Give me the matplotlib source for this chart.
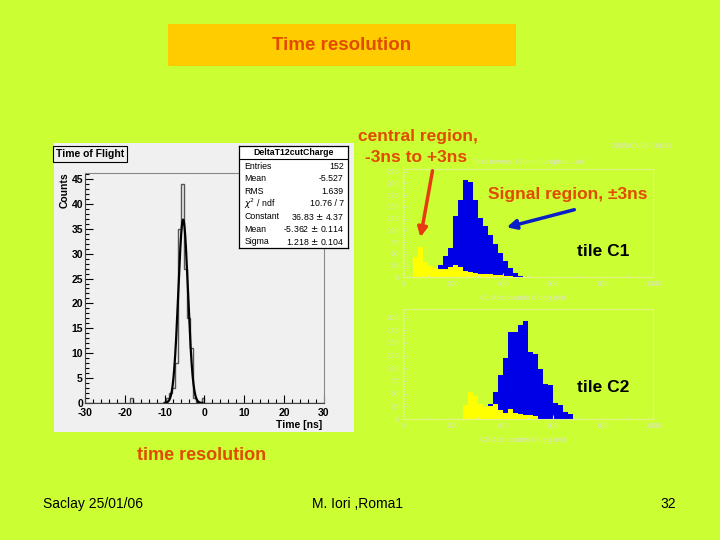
import numpy as np
import matplotlib
matplotlib.use("Agg")
import matplotlib.pyplot as plt
from matplotlib.patches import Rectangle
from matplotlib.ticker import MultipleLocator

plt.rcParams['font.family'] = ['Liberation Sans', 'DejaVu Sans']
plt.rcParams['axes.unicode_minus'] = False

# time of flight histogram (0.75 ns bins), lower bin edges and counts
tof_bin_lo = [-18.75, -9.75, -9.0, -8.25, -7.5, -6.75, -6.0, -5.25, -4.5, -3.75, -3.0, -0.75]
tof_counts = [1, 1, 2, 3, 8, 35, 44, 27, 17, 11, 1, 1]
tof_bin_w = 0.75

# gaussian fit from the stats box
fit_const = 36.83
fit_mean = -5.362
fit_sigma = 1.218

stats_rows = [
    ("Entries", "152"),
    ("Mean", "-5.527"),
    ("RMS", "1.639"),
    ("$\\chi^2$ / ndf", "10.76 / 7"),
    ("Constant", "36.83 $\\pm$ 4.37"),
    ("Mean", "-5.362 $\\pm$ 0.114"),
    ("Sigma", "1.218 $\\pm$ 0.104"),
]

# ADC spectra, 20 count bins: first bin lower edge + counts
adc_bin_w = 20
c1_blue_start = 140
c1_blue = [27, 45, 62, 130, 165, 207, 203, 165, 126, 109, 91, 70, 52, 34, 20, 9, 2, 1]
c1_yellow_start = 40
c1_yellow = [44, 64, 32, 24, 20, 17, 18, 22, 27, 21, 14, 11, 9, 8, 7, 6, 5, 4, 3, 2, 1]
c2_blue_start = 320
c2_blue = [22, 30, 54, 87, 120, 172, 172, 186, 193, 133, 128, 98, 70, 68, 31, 28, 13, 10]
c2_yellow_start = 240
c2_yellow = [28, 54, 45, 30, 24, 26, 29, 17, 12, 19, 11, 9, 8, 7, 5]

W, H = 720, 540
LIME = '#ccff33'
ORANGE_TXT = '#e24a00'
PALE = '#dbe5b8'


def box(x0, y0, x1, y1):
    return [x0 / W, 1 - y1 / H, (x1 - x0) / W, (y1 - y0) / H]


fig = plt.figure(figsize=(7.2, 5.4), dpi=100, facecolor=LIME)

# overlay in pixel coordinates for slide text
ov = fig.add_axes([0, 0, 1, 1], zorder=10)
ov.set_xlim(0, W)
ov.set_ylim(H, 0)
ov.axis('off')
ov.patch.set_alpha(0)

ov.add_patch(Rectangle((168, 24), 348, 42, fc='#ffcc00', ec='none'))
ov.text(342, 45, "Time resolution", color=ORANGE_TXT, fontsize=13.5, fontweight='bold',
        ha='center', va='center')

# ---- left panel: time of flight ----
canvas = fig.add_axes(box(54, 143, 354, 432))
canvas.set_facecolor('#f0f0f0')
canvas.set_xticks([])
canvas.set_yticks([])
for s in canvas.spines.values():
    s.set_visible(False)

ax = fig.add_axes(box(85, 173, 324, 403))
ax.set_facecolor('#f0f0f0')
edges = np.arange(-30, 30 + tof_bin_w / 2, tof_bin_w)
h, _ = np.histogram(np.array(tof_bin_lo) + tof_bin_w / 2, bins=edges, weights=tof_counts)
ax.stairs(h, edges, color='#555555', lw=1.0)
xs = np.linspace(-10, -0.5, 300)
ax.plot(xs, fit_const * np.exp(-0.5 * ((xs - fit_mean) / fit_sigma) ** 2), color='black', lw=1.6)
ax.set_xlim(-30, 30)
ax.set_ylim(0, 46.2)
ax.xaxis.set_major_locator(MultipleLocator(10))
ax.xaxis.set_minor_locator(MultipleLocator(2))
ax.yaxis.set_major_locator(MultipleLocator(5))
ax.yaxis.set_minor_locator(MultipleLocator(1))
ax.tick_params(which='both', direction='in', labelsize=7.5, width=0.8)
ax.tick_params(axis='x', pad=3.5)
ax.tick_params(axis='y', pad=1.5)
ax.tick_params(which='major', length=6)
ax.tick_params(which='minor', length=3)
for lab in ax.get_xticklabels() + ax.get_yticklabels():
    lab.set_fontweight('bold')
ax.get_yticklabels()[0].set_verticalalignment('bottom')
for s in ax.spines.values():
    s.set_linewidth(0.8)
    s.set_color('#444444')
ax.spines['top'].set_color('#888888')
ax.spines['right'].set_color('#888888')

ov.text(65, 190, "Counts", rotation=90, fontsize=7.5, fontweight='bold', ha='center', va='center')
ov.text(322, 425, "Time [ns]", fontsize=7.5, fontweight='bold', ha='right', va='center')
ov.text(90, 154, "Time of Flight", fontsize=7.5, fontweight='bold', ha='center', va='center',
        bbox=dict(boxstyle='square,pad=0.3', fc='#f0f0f0', ec='black', lw=0.8))

# stats box
st = fig.add_axes(box(239, 146, 348, 248), zorder=5)
st.set_facecolor('white')
st.set_xticks([])
st.set_yticks([])
st.set_xlim(0, 1)
st.set_ylim(len(stats_rows) + 1.1, 0)
for s in st.spines.values():
    s.set_linewidth(0.9)
st.axhline(1.05, color='black', lw=0.8)
st.text(0.5, 0.55, "DeltaT12cutCharge", fontsize=6.3, fontweight='bold', ha='center', va='center')
for i, (k, v) in enumerate(stats_rows):
    st.text(0.05, i + 1.6, k, fontsize=6.3, ha='left', va='center')
    st.text(0.96, i + 1.6, v, fontsize=6.3, ha='right', va='center')


# ---- right panels: ADC spectra ----
def adc_panel(rect, blue_start, blue, yel_start, yel, ymax, ystep):
    a = fig.add_axes(rect)
    a.patch.set_alpha(0)
    be = blue_start + adc_bin_w * np.arange(len(blue) + 1)
    ye = yel_start + adc_bin_w * np.arange(len(yel) + 1)
    a.stairs(blue, be, fill=True, color='#0000e6')
    a.stairs(yel, ye, fill=True, color='#ffff00')
    a.set_xlim(0, 1000)
    a.set_ylim(0, ymax)
    a.xaxis.set_major_locator(MultipleLocator(200))
    a.xaxis.set_minor_locator(MultipleLocator(100))
    a.yaxis.set_major_locator(MultipleLocator(ystep))
    a.yaxis.set_minor_locator(MultipleLocator(ystep / 5))
    a.tick_params(which='both', direction='in', labelsize=5.5, labelcolor=PALE, color=PALE, pad=3)
    a.tick_params(which='major', length=3)
    a.tick_params(which='minor', length=1.5)
    for s in a.spines.values():
        s.set_color('#e2f28a')
        s.set_linewidth(0.8)
    return a


adc_panel(box(403.3, 169.3, 653.3, 277.3), c1_blue_start, c1_blue, c1_yellow_start, c1_yellow, 230, 25)
adc_panel(box(403.3, 309, 653.3, 419), c2_blue_start, c2_blue, c2_yellow_start, c2_yellow, 217, 25)

ov.text(642, 147, "2005/07/25  09:21", fontsize=5.5, color=PALE, ha='center', va='center')
ov.text(528, 162, "Test towers 180cm Jungfrau Lab", fontsize=5.5, color=PALE, ha='center', va='center')
ov.text(523, 299, "C1 Adc counts 0 deg test", fontsize=5.5, color=PALE, ha='center', va='center')
ov.text(523, 440, "C2 Adc counts 0 deg test", fontsize=5.5, color=PALE, ha='center', va='center')

# annotations
ov.text(358, 136, "central region,", color=ORANGE_TXT, fontsize=12.5, fontweight='bold', ha='left', va='center')
ov.text(365, 157, "-3ns to +3ns", color=ORANGE_TXT, fontsize=12.5, fontweight='bold', ha='left', va='center')
ov.text(488, 195, "Signal region, \u00b13ns", color=ORANGE_TXT, fontsize=12.5, fontweight='bold',
        ha='left', va='center')
ov.annotate("", xy=(420, 240), xytext=(433, 168),
            arrowprops=dict(arrowstyle='-|>', color='#e83a10', lw=2.5, mutation_scale=14))
ov.annotate("", xy=(504, 228), xytext=(577, 209),
            arrowprops=dict(arrowstyle='-|>', color='#0a1ec8', lw=2.5, mutation_scale=14))
ov.text(603, 251, "tile C1", color='black', fontsize=12.5, fontweight='bold', ha='center', va='center')
ov.text(603, 387, "tile C2", color='black', fontsize=12.5, fontweight='bold', ha='center', va='center')

ov.text(137, 455, "time resolution", color=ORANGE_TXT, fontsize=13, fontweight='bold', ha='left', va='center')

ov.text(43, 504, "Saclay 25/01/06", fontsize=10, ha='left', va='center')
ov.text(358, 504, "M. Iori ,Roma1", fontsize=10, ha='center', va='center')
ov.text(668, 504, "32", fontsize=10, ha='center', va='center')

fig.savefig("out.png", dpi=100, facecolor=LIME)
